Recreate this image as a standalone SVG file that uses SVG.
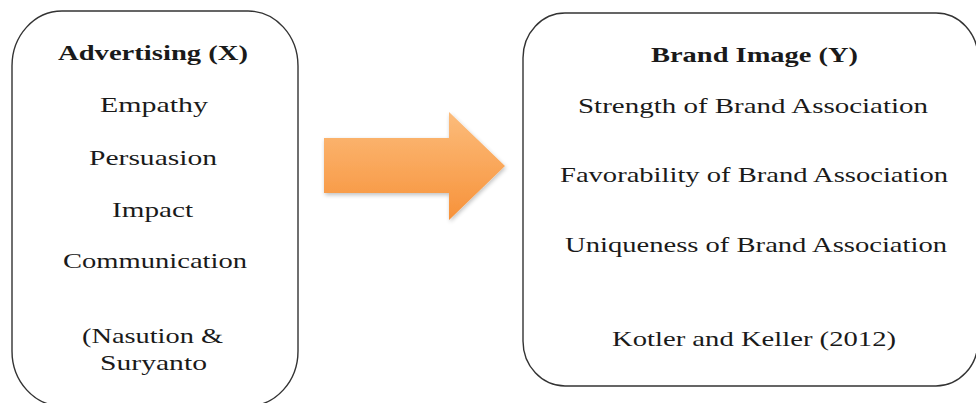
<svg xmlns="http://www.w3.org/2000/svg" width="976" height="403" viewBox="0 0 976 403">
<style>
.box{fill:#fff;stroke:#333;stroke-width:1.4}
.t{font-family:"Liberation Serif","Times New Roman",serif;font-size:22px;fill:#1a1a1a;text-anchor:middle}
.b{font-weight:bold}
</style>
<defs>
<linearGradient id="og" x1="0" y1="0" x2="0" y2="1">
<stop offset="0" stop-color="#FCBC7B"/>
<stop offset="1" stop-color="#F7923A"/>
</linearGradient>
<filter id="sh" x="-10%" y="-10%" width="130%" height="140%">
<feGaussianBlur in="SourceAlpha" stdDeviation="2"/>
<feOffset dx="1" dy="2" result="o"/>
<feComponentTransfer><feFuncA type="linear" slope="0.25"/></feComponentTransfer>
<feMerge><feMergeNode/><feMergeNode in="SourceGraphic"/></feMerge>
</filter>
</defs>
<rect width="976" height="403" fill="#fff"/>
<g id="advertising">
<rect class="box" x="12" y="11" width="286" height="395" rx="50" ry="55"/>
<text class="t b" x="153" y="60" textLength="190" lengthAdjust="spacingAndGlyphs">Advertising (X)</text>
<text class="t" x="154" y="112" textLength="108" lengthAdjust="spacingAndGlyphs">Empathy</text>
<text class="t" x="153" y="165" textLength="128" lengthAdjust="spacingAndGlyphs">Persuasion</text>
<text class="t" x="152.5" y="217" textLength="81" lengthAdjust="spacingAndGlyphs">Impact</text>
<text class="t" x="155" y="268" textLength="184" lengthAdjust="spacingAndGlyphs">Communication</text>
<text class="t" x="152.5" y="343" textLength="141" lengthAdjust="spacingAndGlyphs">(Nasution &amp;</text>
<text class="t" x="153.5" y="370" textLength="107" lengthAdjust="spacingAndGlyphs">Suryanto</text>
</g>
<g id="connectors">
<path d="M324,138 H449 V112 L505,166 L449,220 V193 H324 Z" fill="url(#og)" filter="url(#sh)"/>
</g>
<g id="brand-image">
<rect class="box" x="523" y="13" width="455" height="373" rx="42" ry="45"/>
<text class="t b" x="754.5" y="62" textLength="207" lengthAdjust="spacingAndGlyphs">Brand Image (Y)</text>
<text class="t" x="753" y="113" textLength="350" lengthAdjust="spacingAndGlyphs">Strength of Brand Association</text>
<text class="t" x="754" y="182" textLength="388" lengthAdjust="spacingAndGlyphs">Favorability of Brand Association</text>
<text class="t" x="756" y="252" textLength="382" lengthAdjust="spacingAndGlyphs">Uniqueness of Brand Association</text>
<text class="t" x="754" y="346" textLength="284" lengthAdjust="spacingAndGlyphs">Kotler and Keller (2012)</text>
</g>
</svg>
